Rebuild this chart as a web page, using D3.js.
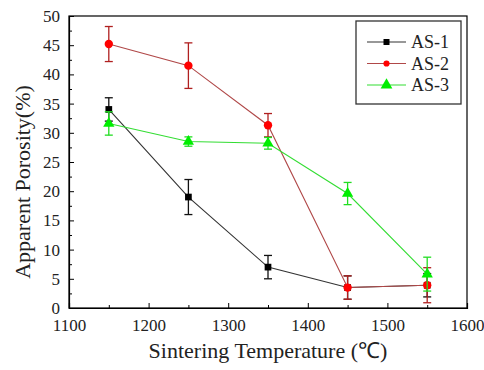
<!DOCTYPE html>
<html><head><meta charset="utf-8">
<script src="https://cdn.jsdelivr.net/npm/d3@7"></script>
<style>body{margin:0;background:#fff}svg{display:block}</style>
</head><body><svg id="c" width="484" height="370"></svg>
<script>
const temps = [1150, 1250, 1350, 1450, 1550];
const as1 = [34.0, 19.0, 7.0, 3.5, 3.9];
const as1Err = [2.0, 3.0, 2.0, 2.0, 2.0];
const as2 = [45.2, 41.5, 31.3, 3.5, 3.9];
const as2Err = [3.0, 3.9, 2.0, 2.0, 3.0];
const as3 = [31.6, 28.5, 28.2, 19.6, 5.8];
const as3Err = [2.0, 0.8, 1.0, 1.9, 2.9];
const seriesNames = ["AS-1", "AS-2", "AS-3"];
const xTicks = [1100, 1200, 1300, 1400, 1500, 1600];
const yTicks = [0, 5, 10, 15, 20, 25, 30, 35, 40, 45, 50];

const cnv = document.createElement("canvas").getContext("2d");
function w(f) { cnv.font = "20px " + f; return cnv.measureText("Apparent Porosity(%) 1234 AS").width; }
const cands = ["Liberation Serif", "Times New Roman", "Tinos", "DejaVu Serif", "Noto Serif", "Times"];
let pick = "serif";
for (const c of cands) { if (w(`"${c}", monospace`) !== w("monospace")) { pick = `"${c}"`; break; } }
const FONT = pick + ", serif";

const svg = d3.select("#c");
const L = 69, R = 467, T = 16, B = 308;
const x = d3.scaleLinear().domain([1100, 1600]).range([L, R]);
const y = d3.scaleLinear().domain([0, 50]).range([B, T]);

svg.append("rect").attr("x", L).attr("y", T).attr("width", R - L).attr("height", B - T)
  .attr("fill", "none").attr("stroke", "#000").attr("stroke-width", 1.2);

svg.append("g").attr("transform", `translate(0,${B})`)
  .call(d3.axisBottom(x).tickValues(xTicks).tickSize(-5).tickPadding(11).tickFormat(d3.format("d")));
svg.append("g").attr("transform", `translate(0,${B})`)
  .call(d3.axisBottom(x).tickValues(d3.range(1150, 1600, 100)).tickSize(-3).tickFormat(""))
  .select(".domain").remove();
svg.append("g").attr("transform", `translate(${L},0)`)
  .call(d3.axisLeft(y).tickValues(yTicks).tickSize(-5).tickPadding(9));
svg.append("g").attr("transform", `translate(${L},0)`)
  .call(d3.axisLeft(y).tickValues(d3.range(2.5, 50, 5)).tickSize(-3).tickFormat(""))
  .select(".domain").remove();
svg.selectAll(".domain").attr("stroke", "#000").attr("stroke-width", 1.2);
svg.selectAll(".tick line").attr("stroke", "#000");
svg.selectAll("g").attr("font-family", FONT);
svg.selectAll(".tick text").attr("font-size", 17).style("font-family", FONT).attr("fill", "#222");

svg.append("text").attr("x", 268).attr("y", 358).attr("text-anchor", "middle")
  .style("font-family", FONT).attr("fill", "#222")
  .attr("font-size", 22).text("Sintering Temperature (℃)");
svg.append("text").attr("transform", "translate(30,182) rotate(-90)").attr("text-anchor", "middle")
  .style("font-family", FONT).attr("fill", "#222")
  .attr("font-size", 22).text("Apparent Porosity(%)");

const series = [
  {name: seriesNames[0], v: as1, e: as1Err, line: "#333", err: "#111", fill: "#000", shape: d3.symbolSquare, size: 45},
  {name: seriesNames[1], v: as2, e: as2Err, line: "#b04848", err: "#b02020", fill: "#ff0000", shape: d3.symbolCircle, size: 55},
  {name: seriesNames[2], v: as3, e: as3Err, line: "#33dd33", err: "#22dd22", fill: "#00ee00", shape: d3.symbolTriangle, size: 55}
];

const lineGen = d3.line().x((d, i) => x(temps[i])).y(d => y(d));
series.forEach(s => {
  const g = svg.append("g");
  g.append("path").attr("d", lineGen(s.v)).attr("fill", "none").attr("stroke", s.line).attr("stroke-width", 1.1);
  s.v.forEach((v, i) => {
    const cx = x(temps[i]), y1 = y(v + s.e[i]), y2 = y(v - s.e[i]);
    g.append("line").attr("x1", cx).attr("x2", cx).attr("y1", y1).attr("y2", y2).attr("stroke", s.err).attr("stroke-width", 1.3);
    [y1, y2].forEach(yy => g.append("line").attr("x1", cx - 4).attr("x2", cx + 4).attr("y1", yy).attr("y2", yy).attr("stroke", s.err).attr("stroke-width", 1.3));
  });
  g.selectAll("path.m").data(s.v).join("path").attr("class", "m")
    .attr("transform", (d, i) => `translate(${x(temps[i])},${y(d)})`)
    .attr("d", d3.symbol().type(s.shape).size(s.size)).attr("fill", s.fill);
});

const lg = svg.append("g");
lg.append("rect").attr("x", 356).attr("y", 21).attr("width", 105).attr("height", 83)
  .attr("fill", "#fff").attr("stroke", "#333").attr("stroke-width", 1.3);
series.forEach((s, i) => {
  const yy = 42 + i * 21.5;
  lg.append("line").attr("x1", 367).attr("x2", 406).attr("y1", yy).attr("y2", yy).attr("stroke", s.line).attr("stroke-width", 1.2);
  lg.append("path").attr("transform", `translate(386.5,${yy})`)
    .attr("d", d3.symbol().type(s.shape).size(i === 1 ? 30 : (i === 0 ? 36 : 60))).attr("fill", s.fill);
  lg.append("text").attr("x", 411).attr("y", yy + 6).attr("font-size", 18)
    .style("font-family", FONT).attr("fill", "#222").text(s.name);
});
</script></body></html>
